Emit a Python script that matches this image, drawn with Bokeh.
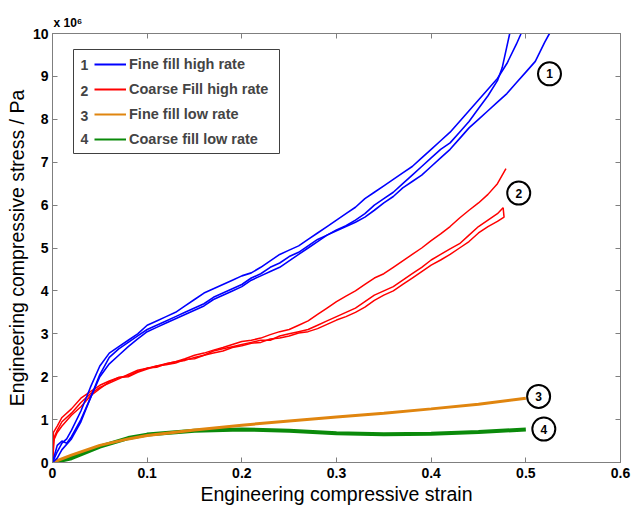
from bokeh.plotting import figure
from bokeh.models import (Range1d, LinearAxis, Legend, LegendItem, Label, Title,
                          BoxAnnotation, FixedTicker, ColumnDataSource, CustomLabelingPolicy)
from bokeh.core.properties import value
from bokeh.embed import file_html
from bokeh.resources import INLINE

# ---------------- data (stress in units of 1e6 Pa) ----------------
b1_x = [0, 0.005, 0.01, 0.015, 0.02, 0.03, 0.04, 0.05, 0.06, 0.07, 0.08, 0.09, 0.1, 0.11, 0.12, 0.13,
        0.14, 0.15, 0.16, 0.17, 0.18, 0.19, 0.2, 0.21, 0.22, 0.23, 0.24, 0.25, 0.26, 0.27, 0.28, 0.29,
        0.3, 0.31, 0.32, 0.33, 0.34, 0.35, 0.36, 0.37, 0.38, 0.39, 0.4, 0.41, 0.42, 0.43, 0.44, 0.45,
        0.46, 0.47, 0.48, 0.49, 0.495]
b1_y = [0, 0.25, 0.45, 0.55, 0.75, 1.2, 1.75, 2.25, 2.55, 2.7, 2.85, 3.0, 3.2, 3.3, 3.4, 3.5,
        3.65, 3.8, 3.95, 4.05, 4.15, 4.25, 4.35, 4.42, 4.55, 4.7, 4.85, 4.95, 5.05, 5.2, 5.35, 5.5,
        5.65, 5.8, 5.95, 6.15, 6.3, 6.45, 6.6, 6.75, 6.9, 7.1, 7.3, 7.5, 7.7, 7.95, 8.2, 8.45,
        8.7, 8.95, 9.3, 9.75, 10.0]

b2_x = [0, 0.005, 0.01, 0.015, 0.02, 0.03, 0.04, 0.05, 0.06, 0.07, 0.08, 0.09, 0.1, 0.11, 0.12, 0.13,
        0.14, 0.15, 0.16, 0.17, 0.18, 0.19, 0.2, 0.21, 0.22, 0.23, 0.24, 0.25, 0.26, 0.27, 0.28, 0.29,
        0.3, 0.31, 0.32, 0.33, 0.34, 0.35, 0.36, 0.37, 0.38, 0.39, 0.4, 0.41, 0.42, 0.43, 0.44, 0.45,
        0.46, 0.47, 0.475, 0.48, 0.483]
b2_y = [0, 0.4, 0.5, 0.45, 0.6, 1.0, 1.5, 2.0, 2.3, 2.5, 2.7, 2.88, 3.05, 3.15, 3.25, 3.35,
        3.45, 3.55, 3.65, 3.8, 3.9, 4.0, 4.1, 4.25, 4.35, 4.45, 4.55, 4.7, 4.85, 5.0, 5.15, 5.3,
        5.42, 5.52, 5.65, 5.8, 6.0, 6.15, 6.3, 6.5, 6.7, 6.9, 7.1, 7.3, 7.45, 7.7, 7.95, 8.25,
        8.55, 8.9, 9.2, 9.7, 10.0]

b3_x = [0, 0.005, 0.01, 0.02, 0.03, 0.04, 0.05, 0.06, 0.07, 0.08, 0.09, 0.1, 0.11, 0.12, 0.13,
        0.14, 0.15, 0.16, 0.17, 0.18, 0.19, 0.2, 0.21, 0.22, 0.23, 0.24, 0.25, 0.26, 0.27, 0.28, 0.29,
        0.3, 0.31, 0.32, 0.33, 0.34, 0.35, 0.36, 0.37, 0.38, 0.39, 0.4, 0.41, 0.42, 0.43, 0.44, 0.45,
        0.46, 0.47, 0.48, 0.49, 0.5, 0.51, 0.52, 0.525]
b3_y = [0, 0.1, 0.3, 0.55, 0.95, 1.5, 2.05, 2.45, 2.65, 2.8, 2.95, 3.1, 3.2, 3.3, 3.4,
        3.5, 3.6, 3.7, 3.85, 3.95, 4.05, 4.15, 4.3, 4.4, 4.55, 4.65, 4.8, 4.9, 5.05, 5.2, 5.3,
        5.4, 5.5, 5.6, 5.72, 5.88, 6.05, 6.2, 6.4, 6.55, 6.7, 6.9, 7.1, 7.3, 7.55, 7.8, 8.0,
        8.2, 8.4, 8.6, 8.85, 9.1, 9.35, 9.8, 10.0]

r1_x = [0, 0.001, 0.005, 0.01, 0.02, 0.03, 0.04, 0.05, 0.06, 0.07, 0.08, 0.09, 0.1, 0.11, 0.12, 0.13,
        0.14, 0.15, 0.16, 0.17, 0.18, 0.19, 0.2, 0.21, 0.22, 0.23, 0.24, 0.25, 0.26, 0.27, 0.28, 0.29,
        0.3, 0.31, 0.32, 0.33, 0.34, 0.35, 0.36, 0.37, 0.38, 0.39, 0.4, 0.41, 0.42, 0.43, 0.44, 0.45,
        0.46, 0.47, 0.479]
r1_y = [0, 0.7, 0.85, 1.05, 1.25, 1.5, 1.65, 1.8, 1.9, 1.98, 2.02, 2.12, 2.2, 2.25, 2.3, 2.35,
        2.42, 2.5, 2.55, 2.62, 2.68, 2.75, 2.82, 2.85, 2.9, 2.98, 3.05, 3.1, 3.2, 3.3, 3.45, 3.6,
        3.75, 3.88, 4.0, 4.15, 4.3, 4.4, 4.55, 4.7, 4.85, 5.0, 5.17, 5.33, 5.5, 5.7, 5.88, 6.05,
        6.25, 6.5, 6.85]

r2_x = [0, 0.002, 0.005, 0.01, 0.02, 0.03, 0.04, 0.05, 0.06, 0.07, 0.08, 0.09, 0.1, 0.11, 0.12, 0.13,
        0.14, 0.15, 0.16, 0.17, 0.18, 0.19, 0.2, 0.21, 0.22, 0.23, 0.24, 0.25, 0.26, 0.27, 0.28, 0.29,
        0.3, 0.31, 0.32, 0.33, 0.34, 0.35, 0.36, 0.37, 0.38, 0.39, 0.4, 0.41, 0.42, 0.43, 0.44, 0.45,
        0.46, 0.47, 0.476]
r2_y = [0, 0.6, 0.75, 0.95, 1.15, 1.4, 1.6, 1.75, 1.85, 1.95, 2.05, 2.15, 2.2, 2.22, 2.3, 2.35,
        2.38, 2.45, 2.5, 2.6, 2.65, 2.7, 2.75, 2.8, 2.85, 2.85, 2.95, 3.0, 3.05, 3.1, 3.2, 3.3,
        3.4, 3.5, 3.6, 3.75, 3.9, 4.0, 4.1, 4.25, 4.4, 4.55, 4.72, 4.85, 4.98, 5.1, 5.3, 5.5,
        5.65, 5.8, 5.94]

r3_x = [0, 0.001, 0.005, 0.01, 0.02, 0.03, 0.04, 0.05, 0.06, 0.07, 0.08, 0.09, 0.1, 0.11, 0.12, 0.13,
        0.14, 0.15, 0.16, 0.17, 0.18, 0.19, 0.2, 0.21, 0.22, 0.23, 0.24, 0.25, 0.26, 0.27, 0.28, 0.29,
        0.3, 0.31, 0.32, 0.33, 0.34, 0.35, 0.36, 0.37, 0.38, 0.39, 0.4, 0.41, 0.42, 0.43, 0.44, 0.45,
        0.46, 0.47, 0.477, 0.476]
r3_y = [0, 0.5, 0.7, 0.85, 1.1, 1.3, 1.55, 1.72, 1.88, 1.98, 2.0, 2.1, 2.18, 2.25, 2.28, 2.32,
        2.4, 2.42, 2.5, 2.55, 2.6, 2.68, 2.72, 2.78, 2.8, 2.88, 2.9, 2.95, 3.02, 3.05, 3.12, 3.22,
        3.32, 3.4, 3.5, 3.62, 3.78, 3.9, 4.0, 4.15, 4.3, 4.45, 4.6, 4.72, 4.85, 5.0, 5.15, 5.35,
        5.5, 5.62, 5.72, 5.94]

o_x = [0, 0.02, 0.05, 0.08, 0.1, 0.15, 0.2, 0.25, 0.3, 0.35, 0.4, 0.45, 0.5]
o_y = [0, 0.17, 0.4, 0.55, 0.63, 0.76, 0.87, 0.97, 1.06, 1.15, 1.25, 1.36, 1.5]

g_x = [0, 0.02, 0.05, 0.08, 0.1, 0.15, 0.2, 0.25, 0.3, 0.35, 0.4, 0.45, 0.5]
g_y = [0, 0.1, 0.37, 0.57, 0.65, 0.74, 0.77, 0.74, 0.68, 0.66, 0.67, 0.71, 0.77]

legend_labels = ["Fine fill high rate", "Coarse Fill high rate", "Fine fill low rate", "Coarse fill low rate"]
legend_numbers = ["1", "2", "3", "4"]
annot_x = [0.525, 0.4925, 0.5135, 0.519]
annot_y = [9.06, 6.28, 1.54, 0.78]
annot_text = ["1", "2", "3", "4"]
x_ticks = [0, 0.1, 0.2, 0.3, 0.4, 0.5, 0.6]
y_ticks = [0, 1, 2, 3, 4, 5, 6, 7, 8, 9, 10]

BLUE, RED, ORANGE, GREEN = "#0000FF", "#FF0000", "#E0850F", "#0A8A0A"
AXC = "#7F7F7F"
FONT = "Liberation Sans"

p = figure(width=632, height=507, output_backend="svg", toolbar_location=None,
           x_range=Range1d(0, 0.6), y_range=Range1d(0, 10),
           min_border_left=52, min_border_right=12, min_border_top=33, min_border_bottom=45)
p.grid.visible = False
p.outline_line_color = AXC
p.background_fill_color = "white"
p.border_fill_color = "white"

# data lines
g = p.line(g_x, g_y, color=GREEN, line_width=4)
o = p.line(o_x, o_y, color=ORANGE, line_width=3)
for xs, ys in [(r1_x, r1_y), (r2_x, r2_y), (r3_x, r3_y)]:
    p.line(xs, ys, color=RED, line_width=1.5)
for xs, ys in [(b1_x, b1_y), (b2_x, b2_y), (b3_x, b3_y)]:
    p.line(xs, ys, color=BLUE, line_width=1.6)

# annotation circles
src = ColumnDataSource(dict(x=annot_x, y=annot_y, t=annot_text))
p.scatter("x", "y", source=src, size=23, fill_color="white", line_color="black", line_width=2)
p.text("x", "y", text="t", source=src, text_align="center", text_baseline="middle",
       text_font=value(FONT), text_font_style="bold", text_font_size="12px", text_color="black")

# axes
no_labels = CustomLabelingPolicy(code="return new Set()")

def style_axis(ax, ticks, show_labels=True):
    ax.ticker = FixedTicker(ticks=ticks)
    ax.axis_line_color = AXC
    ax.major_tick_line_color = AXC
    ax.major_tick_in = 5
    ax.major_tick_out = 0
    ax.minor_tick_line_color = None
    ax.major_label_text_font = FONT
    ax.major_label_text_font_style = "bold"
    ax.major_label_text_font_size = "14px"
    ax.major_label_text_color = "black"
    ax.axis_label_text_font = FONT
    ax.axis_label_text_font_style = "normal"
    ax.axis_label_text_font_size = "19.5px"
    ax.axis_label_text_color = "black"
    if not show_labels:
        ax.major_label_policy = no_labels
        ax.major_label_standoff = 0
        ax.major_label_text_font_size = "1px"

xa = p.xaxis[0]
style_axis(xa, x_ticks)
xa.major_label_overrides = {0: "0"}
xa.axis_label = "Engineering compressive strain"
xa.major_label_standoff = 5
xa.axis_label_standoff = 2

ya = p.yaxis[0]
style_axis(ya, y_ticks)
ya.axis_label = "Engineering compressive stress / Pa"
ya.major_label_standoff = 4
ya.axis_label_standoff = 2

top_ax = LinearAxis()
style_axis(top_ax, x_ticks, show_labels=False)
p.add_layout(top_ax, "above")
right_ax = LinearAxis()
style_axis(right_ax, y_ticks, show_labels=False)
p.add_layout(right_ax, "right")

# exponent marker above the frame
p.add_layout(Title(text="x 10\u2076", align="left", offset=1, standoff=0,
                   text_font=FONT, text_font_style="bold", text_font_size="12px",
                   text_color="black"), "above")

# legend frame (box) and numbers
box = BoxAnnotation(left=21, right=227, top=413, bottom=309,
                    left_units="screen", right_units="screen", top_units="screen", bottom_units="screen",
                    fill_color="white", fill_alpha=1.0, line_color="#404040", line_width=1, line_alpha=1.0)
p.add_layout(box)

leg_colors = [BLUE, RED, ORANGE, GREEN]
items = []
for lab, col in zip(legend_labels, leg_colors):
    r = p.line([0, 0], [0, 0], color=col, line_width=2, line_cap="butt")
    items.append(LegendItem(label=lab, renderers=[r]))
legend = Legend(items=items, location=(38, 309), padding=4, margin=0, spacing=5,
                glyph_width=32, glyph_height=20, label_height=20, label_standoff=3,
                label_text_font=FONT, label_text_font_style="bold", label_text_font_size="14.5px",
                border_line_alpha=0, background_fill_alpha=0)
p.add_layout(legend)

row_y = [398, 372, 347, 324]
for num, yy in zip(legend_numbers, row_y):
    p.add_layout(Label(x=32, y=yy, x_units="screen", y_units="screen", text=num,
                       text_align="center", text_baseline="middle", text_font=FONT,
                       text_font_style="bold", text_font_size="14px"))

open("out.html", "w").write(file_html(p, INLINE))
